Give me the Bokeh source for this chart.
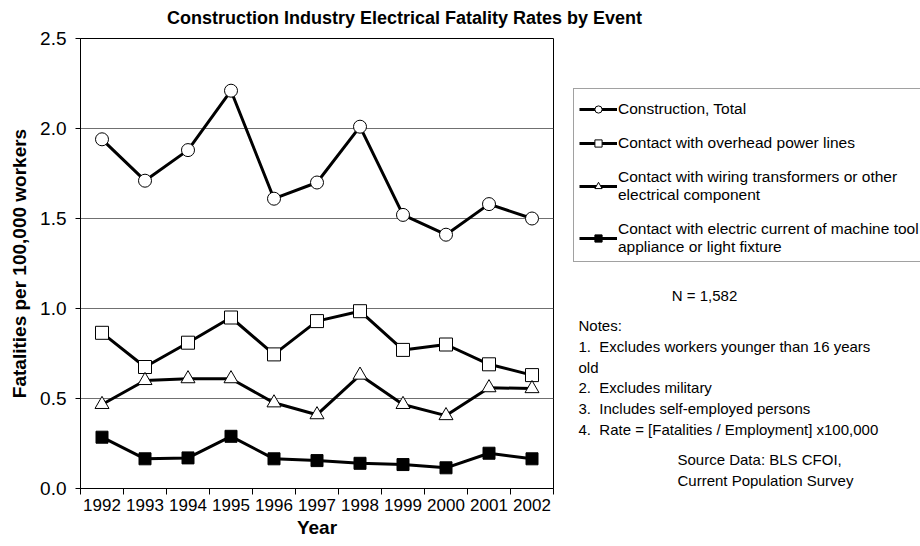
from bokeh.plotting import figure
from bokeh.models import (FixedTicker, NumeralTickFormatter, Legend, LegendItem, Range1d)
from bokeh.layouts import column, row
from bokeh.core.properties import value
from bokeh.embed import file_html
from bokeh.resources import INLINE

years = [1992, 1993, 1994, 1995, 1996, 1997, 1998, 1999, 2000, 2001, 2002]
total = [1.94, 1.71, 1.88, 2.21, 1.61, 1.70, 2.01, 1.52, 1.41, 1.58, 1.50]
overhead = [0.865, 0.675, 0.81, 0.95, 0.745, 0.93, 0.985, 0.77, 0.80, 0.69, 0.63]
wiring = [0.467, 0.60, 0.61, 0.61, 0.476, 0.41, 0.63, 0.467, 0.405, 0.56, 0.555]
machine = [0.285, 0.165, 0.17, 0.29, 0.165, 0.155, 0.14, 0.133, 0.115, 0.196, 0.165]

series_names = ["Construction, Total",
                "Contact with overhead power lines",
                "Contact with wiring transformers or other\nelectrical component",
                "Contact with electric current of machine tool\nappliance or light fixture"]
y_ticks = [0.0, 0.5, 1.0, 1.5, 2.0, 2.5]

NB = "\u00a0"
title_text = "Construction Industry Electrical Fatality Rates by Event"
n_text = "N = 1,582"
notes_lines = ["Notes:",
               "1." + NB + " Excludes workers younger than 16 years",
               "old",
               "2." + NB + " Excludes military",
               "3." + NB + " Includes self-employed persons",
               "4." + NB + " Rate = [Fatalities / Employment] x100,000"]
source_lines = ["Source Data: BLS CFOI,", "Current Population Survey"]

FONT = "Liberation Sans"
TITLE_H = 29
BODY_H = 546 - TITLE_H
FRAME_TOP, FRAME_BOTTOM = 38, 488   # page pixels of the plotting frame

# ---- title strip ----
pt = figure(width=920, height=TITLE_H, output_backend="svg", toolbar_location=None,
            x_range=Range1d(0, 920), y_range=Range1d(TITLE_H, 0),
            x_axis_location=None, y_axis_location=None,
            min_border=0, outline_line_color=None)
pt.grid.visible = False
pt.text(x=[404], y=[17], text=[title_text], text_font=value(FONT),
        text_font_size="18px", text_font_style="bold", text_align="center",
        text_baseline="middle", text_color="black")

# ---- main chart ----
p = figure(width=560, height=BODY_H, output_backend="svg", toolbar_location=None,
           x_range=Range1d(years[0] - 0.5, years[-1] + 0.5),
           y_range=Range1d(0, 2.5),
           min_border_left=80, min_border_right=7,
           min_border_top=FRAME_TOP - TITLE_H, min_border_bottom=546 - FRAME_BOTTOM)
p.background_fill_color = "white"
p.border_fill_color = "white"
p.outline_line_color = "black"
p.outline_line_width = 1

bounds = [y - 0.5 for y in years] + [years[-1] + 0.5]
p.xaxis.ticker = FixedTicker(ticks=years, minor_ticks=bounds)
p.xaxis.major_tick_line_color = None
p.xaxis.major_tick_out = 0
p.xaxis.major_tick_in = 0
p.xaxis.minor_tick_line_color = "black"
p.xaxis.minor_tick_out = 6
p.xaxis.minor_tick_in = 0
p.xaxis.axis_line_color = "black"
p.xaxis.major_label_text_font = FONT
p.xaxis.major_label_text_font_size = "17px"
p.xaxis.major_label_text_color = "black"
p.xaxis.major_label_standoff = 4
p.xaxis.axis_label = "Year"
p.xaxis.axis_label_text_font = FONT
p.xaxis.axis_label_text_font_size = "19px"
p.xaxis.axis_label_text_font_style = "bold"
p.xaxis.axis_label_text_color = "black"
p.xaxis.axis_label_standoff = 3

p.yaxis.ticker = FixedTicker(ticks=y_ticks)
p.yaxis.formatter = NumeralTickFormatter(format="0.0")
p.yaxis.minor_tick_line_color = None
p.yaxis.major_tick_out = 5
p.yaxis.major_tick_in = 0
p.yaxis.major_tick_line_color = "black"
p.yaxis.axis_line_color = "black"
p.yaxis.major_label_text_font = FONT
p.yaxis.major_label_text_font_size = "19px"
p.yaxis.major_label_text_color = "black"
p.yaxis.major_label_standoff = 9
p.yaxis.axis_label = "Fatalities per 100,000 workers"
p.yaxis.axis_label_text_font = FONT
p.yaxis.axis_label_text_font_size = "19px"
p.yaxis.axis_label_text_font_style = "bold"
p.yaxis.axis_label_text_color = "black"
p.yaxis.axis_label_standoff = 7

p.xgrid.grid_line_color = None
p.ygrid.grid_line_color = "#707070"
p.ygrid.grid_line_width = 1

specs = [(total, "circle", 13, "white"),
         (overhead, "square", 13, "white"),
         (wiring, "triangle", 14, "white"),
         (machine, "square", 12, "black")]
for vals, marker, size, fill in specs:
    p.line(years, vals, line_color="black", line_width=3)
    p.scatter(years, vals, marker=marker, size=size, fill_color=fill,
              line_color="black", line_width=1)

# ---- right panel: legend and notes (frame aligned with main frame) ----
X0 = 560
p2 = figure(width=920 - X0, height=BODY_H, output_backend="svg", toolbar_location=None,
            x_range=Range1d(X0, 920), y_range=Range1d(FRAME_BOTTOM, FRAME_TOP),
            x_axis_location=None, y_axis_location=None,
            min_border_left=0, min_border_right=0,
            min_border_top=FRAME_TOP - TITLE_H, min_border_bottom=546 - FRAME_BOTTOM,
            outline_line_color=None)
p2.grid.visible = False

nan = float("nan")
items = []
for name, (vals, marker, size, fill) in zip(series_names, specs):
    ln = p2.line(x=[nan], y=[nan], line_color="black", line_width=3)
    sc = p2.scatter(x=[nan], y=[nan], marker=marker, size=9, fill_color=fill,
                    line_color="black", line_width=1)
    items.append(LegendItem(label=name, renderers=[ln, sc]))

legend = Legend(items=items, location=(573 - X0, FRAME_BOTTOM - 262))
legend.title = " "
legend.title_text_font_size = "6px"
legend.title_standoff = 0
legend.label_text_font = FONT
legend.label_text_font_size = "15.5px"
legend.label_text_color = "black"
legend.label_height = 18
legend.glyph_height = 18
legend.glyph_width = 38
legend.label_standoff = 1
legend.spacing = 16
legend.padding = 5
legend.margin = 0
legend.border_line_color = "#444444"
legend.border_line_width = 1
legend.background_fill_color = "white"
legend.background_fill_alpha = 1
p2.add_layout(legend, "center")

p2.text(x=[704], y=[295], text=[n_text], text_font=value(FONT),
        text_font_size="15px", text_align="center", text_baseline="middle",
        text_color="black")
p2.text(x=[578] * len(notes_lines),
        y=[325 + 20.8 * i for i in range(len(notes_lines))],
        text=notes_lines, text_font=value(FONT), text_font_size="15px",
        text_align="left", text_baseline="middle", text_color="black")
p2.text(x=[677] * len(source_lines),
        y=[459 + 21 * i for i in range(len(source_lines))],
        text=source_lines, text_font=value(FONT), text_font_size="15px",
        text_align="left", text_baseline="middle", text_color="black")

layout = column(pt, row(p, p2))
open("out.html", "w").write(file_html(layout, INLINE))
